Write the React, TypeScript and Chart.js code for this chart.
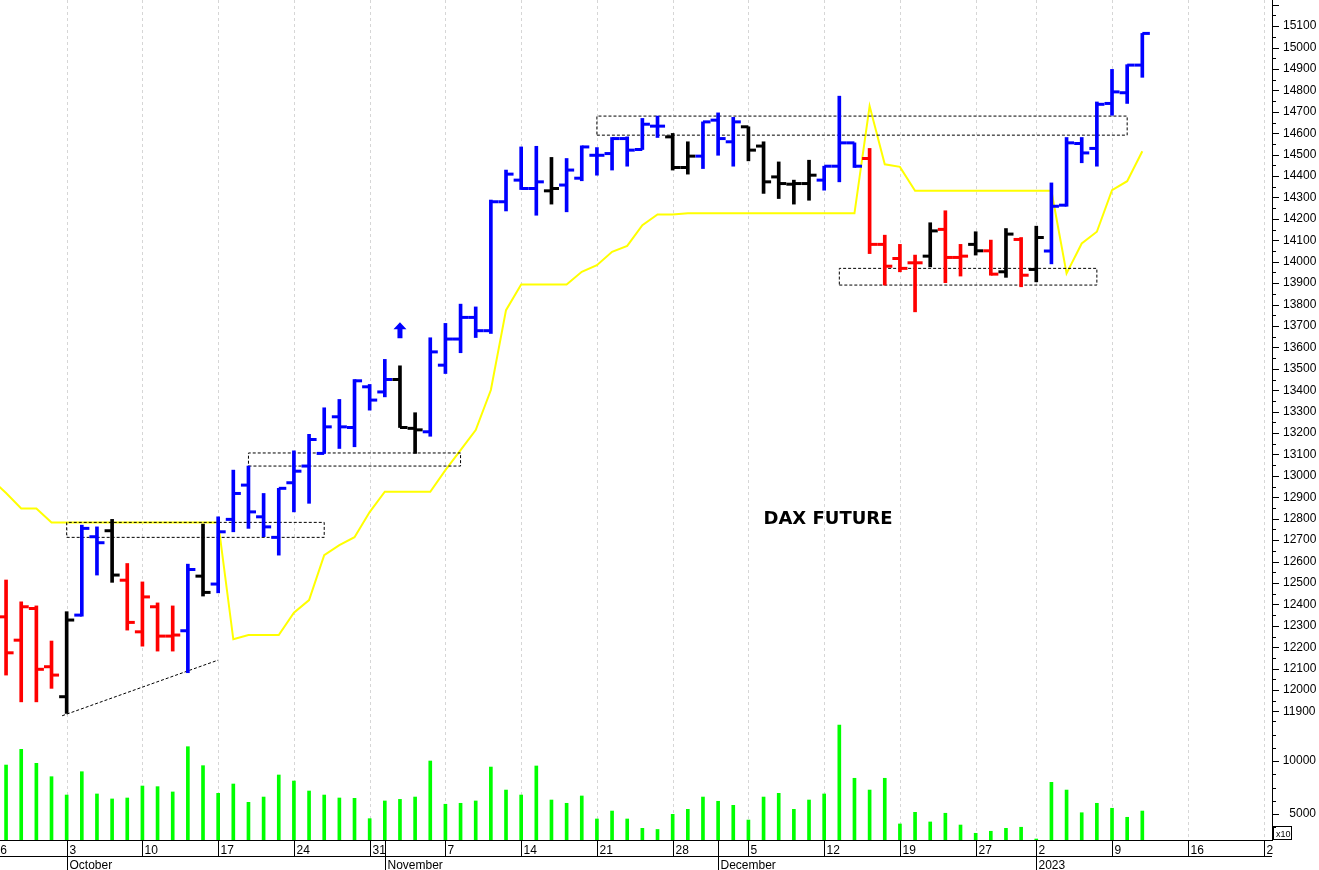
import React, { useEffect, useRef } from 'react';
import { Chart, registerables } from 'chart.js';

Chart.register(...registerables);

// ---- DATA (index 0 = Mon 3 Oct 2022, trading days) ----
const START_INDEX = -4; // first visible bar = 27 Sep 2022

const opens = [
  12342, 12233, 12381, 12109, 11969, 12350, 12716, 12744, 12513, 12272,
  12389, 12252, 12277, 12532, 12495, 12797, 12957, 12809, 12713, 12968,
  13046, 13105, 13276, 13226, 13416, 13392, 13450, 13222, 13206, 13517,
  13639, 13740, 13678, 14280, 14381, 14342, 14331, 14358, 14390, 14497,
  14505, 14575, 14524, 14633, 14583, 14440, 14493, 14661, 14560, 14630,
  14540, 14396, 14362, 14365, 14381, 14446, 14555, 14482, 14081, 14015,
  13995, 14026, 14151, 14020, 14081, 14051, 13953, 14104, 13964, 14050,
  14264, 14552, 14529, 14739, 14789, 14918,
];
const highs = [
  12514, 12412, 12393, 12229, 12366, 12770, 12762, 12797, 12591, 12505,
  12407, 12393, 12588, 12775, 12809, 13027, 13046, 12918, 12942, 13117,
  13194, 13318, 13357, 13450, 13427, 13544, 13514, 13295, 13645, 13712,
  13802, 13789, 14288, 14428, 14536, 14539, 14487, 14482, 14541, 14533,
  14580, 14583, 14669, 14680, 14599, 14560, 14653, 14695, 14674, 14630,
  14560, 14466, 14381, 14474, 14446, 14773, 14555, 14529, 14124, 14081,
  14031, 14182, 14238, 14081, 14140, 14101, 14155, 14113, 14166, 14368,
  14580, 14580, 14746, 14898, 14920, 15066,
];
const lows = [
  12070, 11945, 11945, 12008, 11891, 12345, 12537, 12503, 12280, 12205,
  12182, 12182, 12081, 12439, 12454, 12739, 12755, 12716, 12630, 12832,
  12872, 13105, 13128, 13136, 13307, 13369, 13226, 13105, 13185, 13478,
  13575, 13646, 13665, 14237, 14337, 14217, 14269, 14233, 14378, 14404,
  14428, 14446, 14524, 14580, 14428, 14409, 14435, 14497, 14446, 14471,
  14319, 14295, 14269, 14287, 14334, 14373, 14440, 14038, 13891, 13953,
  13766, 13976, 13902, 13933, 14031, 13937, 13927, 13883, 13906, 13990,
  14259, 14462, 14446, 14684, 14739, 14861,
];
const closes = [
  12174, 12389, 12097, 12070, 12327, 12755, 12688, 12537, 12316, 12435,
  12252, 12257, 12563, 12456, 12739, 12918, 12832, 12762, 12942, 13022,
  13170, 13229, 13229, 13444, 13354, 13450, 13226, 13215, 13579, 13639,
  13740, 13678, 14280, 14409, 14342, 14373, 14342, 14428, 14536, 14497,
  14575, 14521, 14642, 14633, 14440, 14493, 14653, 14575, 14653, 14521,
  14373, 14365, 14365, 14404, 14446, 14555, 14446, 14081, 13979, 13969,
  13995, 14144, 14020, 14026, 14051, 13942, 14129, 13937, 14113, 14259,
  14555, 14508, 14735, 14793, 14918, 15066,
];
// B = blue, K = black, R = red
const barColors = [
  'R', 'R', 'R', 'R', 'K', 'B', 'B', 'K', 'R', 'R',
  'R', 'R', 'B', 'K', 'B', 'B', 'B', 'B', 'B', 'B',
  'B', 'B', 'B', 'B', 'B', 'B', 'K', 'K', 'B', 'B',
  'B', 'B', 'B', 'B', 'B', 'B', 'K', 'B', 'B', 'B',
  'B', 'B', 'B', 'B', 'K', 'K', 'B', 'B', 'B', 'K',
  'K', 'K', 'K', 'K', 'B', 'B', 'B', 'R', 'R', 'R',
  'R', 'K', 'R', 'R', 'K', 'R', 'K', 'R', 'K', 'B',
  'B', 'B', 'B', 'B', 'B', 'B',
];
const volumes = [
  9620, 11100, 9780, 8520, 6790, 8990, 6890, 6420, 6510, 7640,
  7580, 7080, 11350, 9560, 6950, 7830, 6100, 6600, 8680, 8110,
  7170, 6790, 6510, 6480, 4560, 6230, 6380, 6600, 10000, 5920,
  6010, 6230, 9430, 7260, 6790, 9530, 6320, 6010, 6700, 4530,
  5280, 4530, 3650, 3540, 4970, 5440, 6600, 6200, 5820, 4430,
  6600, 6950, 5440, 6320, 6890, 13400, 8370, 7260, 8370, 4060,
  5160, 4250, 5070, 3960, 3180, 3370, 3650, 3750, 2640, 7990,
  7260, 5120, 6010, 5540, 4690, 5280,
];

const YELLOW_START = -5;
const yellowLine = [
  12985, 12920, 12848, 12848, 12783, 12783, 12783, 12783, 12783, 12783,
  12783, 12783, 12783, 12783, 12783, 12783, 12237, 12257, 12257, 12257,
  12361, 12420, 12630, 12677, 12714, 12831, 12926, 12926, 12926, 12926,
  13027, 13120, 13214, 13401, 13774, 13894, 13894, 13894, 13894, 13953,
  13984, 14046, 14074, 14171, 14221, 14221, 14226, 14226, 14226, 14226,
  14226, 14226, 14226, 14226, 14226, 14226, 14226, 14226, 14727, 14455,
  14443, 14331, 14331, 14331, 14331, 14331, 14331, 14331, 14331, 14331,
  14331, 13945, 14085, 14140, 14334, 14376, 14516,
];

// dotted boxes
const boxStartIdx = [0, 12, 35, 51];
const boxEndIdx = [17, 26, 70, 68];
const boxLow = [12713, 13046, 14591, 13891];
const boxHigh = [12783, 13107, 14680, 13969];
// dotted trend line
const trendIdx = [-0.3, 10];
const trendPrice = [11880, 12140];
// signal arrow
const arrowIdx = 22;
const arrowPrice = 13680;

// axis labels
const priceTicks = [
  11900, 12000, 12100, 12200, 12300, 12400, 12500, 12600, 12700, 12800,
  12900, 13000, 13100, 13200, 13300, 13400, 13500, 13600, 13700, 13800,
  13900, 14000, 14100, 14200, 14300, 14400, 14500, 14600, 14700, 14800,
  14900, 15000, 15100,
];
const volumeTicks = [5000, 10000];
const weekTickIdx = [-5, 0, 5, 10, 15, 20, 25, 30, 35, 40, 45, 50, 55, 60, 64, 69, 74, 79];
const weekTickLabels = ['26', '3', '10', '17', '24', '31', '7', '14', '21', '28', '5', '12', '19', '27', '2', '9', '16', '23'];
const monthTickIdx = [0, 21, 43, 64];
const monthTickLabels = ['October', 'November', 'December', '2023'];
const chartTitle = 'DAX FUTURE';

const COLOR_MAP: Record<string, string> = { B: '#0000ff', K: '#000000', R: '#ff0000' };
const FONT = '"Liberation Sans", Arial, sans-serif';

const decorPlugin = {
  id: 'decor',
  beforeDatasetsDraw(chart: any) {
    const { ctx, chartArea, scales } = chart;
    const x = scales.x;
    ctx.save();
    ctx.strokeStyle = '#d6d6d6';
    ctx.lineWidth = 1;
    ctx.setLineDash([3, 3]);
    weekTickIdx.forEach((i) => {
      const px = Math.round(x.getPixelForValue(i)) + 0.5;
      if (px < chartArea.left || px > chartArea.right) return;
      ctx.beginPath();
      ctx.moveTo(px, chartArea.top);
      ctx.lineTo(px, chartArea.bottom);
      ctx.stroke();
    });
    ctx.restore();
  },
  afterDraw(chart: any) {
    const { ctx, chartArea, scales } = chart;
    const x = scales.x;
    const y = scales.y;
    const yv = scales.yv;
    const right = chartArea.right;
    const bottom = chartArea.bottom;

    ctx.save();
    // price axis tick marks (major 100, minor 50)
    ctx.strokeStyle = '#000';
    ctx.lineWidth = 1;
    for (let v = 11900; v <= 15200; v += 50) {
      const py = Math.round(y.getPixelForValue(v)) + 0.5;
      const len = v % 100 === 0 ? 7 : 4;
      ctx.beginPath();
      ctx.moveTo(right, py);
      ctx.lineTo(right + len, py);
      ctx.stroke();
    }
    // volume axis ticks
    for (let v = 3750; v <= 13750; v += 1250) {
      const py = Math.round(yv.getPixelForValue(v)) + 0.5;
      const len = v % 5000 === 0 ? 7 : 4;
      ctx.beginPath();
      ctx.moveTo(right, py);
      ctx.lineTo(right + len, py);
      ctx.stroke();
    }
    ctx.fillStyle = '#000';
    ctx.font = '12px ' + FONT;
    ctx.textAlign = 'right';
    ctx.textBaseline = 'middle';
    volumeTicks.forEach((v) => {
      ctx.fillText(String(v), 1316, yv.getPixelForValue(v));
    });
    // x10 box
    ctx.strokeRect(right + 1.5, bottom - 13.5, 18, 13);
    ctx.font = '9px ' + FONT;
    ctx.textAlign = 'left';
    ctx.textBaseline = 'alphabetic';
    ctx.fillText('x10', right + 4, bottom - 3);

    // bottom date axis
    ctx.beginPath();
    ctx.rect(0, bottom, right + 1, 40);
    ctx.clip();
    ctx.beginPath();
    ctx.moveTo(0, bottom + 0.5);
    ctx.lineTo(right, bottom + 0.5);
    ctx.moveTo(0, bottom + 16.5);
    ctx.lineTo(right, bottom + 16.5);
    ctx.stroke();
    ctx.font = '12px ' + FONT;
    ctx.textAlign = 'left';
    weekTickIdx.forEach((i, k) => {
      const px = Math.round(x.getPixelForValue(i)) + 0.5;
      ctx.beginPath();
      ctx.moveTo(px, bottom);
      ctx.lineTo(px, bottom + 16);
      ctx.stroke();
      ctx.fillText(weekTickLabels[k], px + 2, bottom + 14);
    });
    monthTickIdx.forEach((i, k) => {
      const px = Math.round(x.getPixelForValue(i)) + 0.5;
      ctx.beginPath();
      ctx.moveTo(px, bottom);
      ctx.lineTo(px, bottom + 30);
      ctx.stroke();
      ctx.fillText(monthTickLabels[k], px + 2, bottom + 29);
    });
    ctx.restore();

    // title text
    ctx.save();
    ctx.fillStyle = '#000';
    ctx.font = 'bold 18px "DejaVu Sans", Verdana, sans-serif';
    ctx.textAlign = 'center';
    ctx.textBaseline = 'middle';
    ctx.fillText(chartTitle, x.getPixelForValue(50.25), y.getPixelForValue(12798));
    ctx.restore();

    // signal arrow
    const ax = x.getPixelForValue(arrowIdx);
    const ay = y.getPixelForValue(arrowPrice);
    ctx.save();
    ctx.fillStyle = '#0000ff';
    ctx.beginPath();
    ctx.moveTo(ax, ay - 8);
    ctx.lineTo(ax + 6.5, ay - 1);
    ctx.lineTo(ax + 2.5, ay - 1);
    ctx.lineTo(ax + 2.5, ay + 8);
    ctx.lineTo(ax - 2.5, ay + 8);
    ctx.lineTo(ax - 2.5, ay - 1);
    ctx.lineTo(ax - 6.5, ay - 1);
    ctx.closePath();
    ctx.fill();
    ctx.restore();
  },
};

export default function App() {
  const canvasRef = useRef<HTMLCanvasElement | null>(null);

  useEffect(() => {
    const canvas = canvasRef.current;
    if (!canvas) return;
    const idx = opens.map((_, k) => START_INDEX + k);
    const cols = barColors.map((c) => COLOR_MAP[c]);
    const TICK_OFF = 0.25;

    const boxSets = boxStartIdx.map((x0, k) => ({
      type: 'line' as const,
      data: [
        { x: x0, y: boxLow[k] },
        { x: boxEndIdx[k], y: boxLow[k] },
        { x: boxEndIdx[k], y: boxHigh[k] },
        { x: x0, y: boxHigh[k] },
        { x: x0, y: boxLow[k] },
      ],
      borderColor: '#000',
      borderWidth: 1,
      borderDash: [3, 2],
      pointRadius: 0,
      pointHoverRadius: 0,
      fill: false,
      yAxisID: 'y',
      order: 4,
    }));

    const chart = new Chart(canvas, {
      type: 'bar',
      data: {
        datasets: [
          {
            type: 'line',
            data: yellowLine.map((v, k) => ({ x: YELLOW_START + k, y: v })),
            borderColor: '#ffff00',
            borderWidth: 2,
            pointRadius: 0,
            pointHoverRadius: 0,
            tension: 0,
            fill: false,
            yAxisID: 'y',
            order: 6,
          },
          ...boxSets,
          {
            type: 'line',
            data: trendIdx.map((xv, k) => ({ x: xv, y: trendPrice[k] })),
            borderColor: '#000',
            borderWidth: 1,
            borderDash: [3, 2],
            pointRadius: 0,
            pointHoverRadius: 0,
            fill: false,
            yAxisID: 'y',
            order: 4,
          },
          {
            type: 'bar',
            data: idx.map((xv, k) => ({ x: xv, y: volumes[k] })),
            backgroundColor: '#00ff00',
            barThickness: 3,
            grouped: false,
            yAxisID: 'yv',
            order: 3,
          },
          {
            type: 'bar',
            data: idx.map((xv, k) => ({ x: xv, y: [lows[k], highs[k]] })),
            backgroundColor: cols,
            barThickness: 3,
            grouped: false,
            yAxisID: 'y',
            order: 2,
          },
          {
            type: 'line',
            data: idx.map((xv, k) => ({ x: xv - TICK_OFF, y: opens[k] })),
            showLine: false,
            pointStyle: 'line',
            pointRadius: 3.75,
            pointHoverRadius: 3.75,
            pointBorderWidth: 3,
            pointBorderColor: cols,
            pointBackgroundColor: cols,
            yAxisID: 'y',
            order: 1,
          },
          {
            type: 'line',
            data: idx.map((xv, k) => ({ x: xv + TICK_OFF, y: closes[k] })),
            showLine: false,
            pointStyle: 'line',
            pointRadius: 3.75,
            pointHoverRadius: 3.75,
            pointBorderWidth: 3,
            pointBorderColor: cols,
            pointBackgroundColor: cols,
            yAxisID: 'y',
            order: 1,
          },
        ] as any,
      },
      options: {
        animation: false,
        responsive: true,
        maintainAspectRatio: false,
        devicePixelRatio: 1,
        layout: { autoPadding: false, padding: { left: 0, right: 0, top: 0, bottom: 30 } },
        plugins: { legend: { display: false }, tooltip: { enabled: false } },
        events: [],
        scales: {
          x: { type: 'linear', min: -4.4, max: 79.56, display: false, offset: false },
          y: {
            type: 'linear',
            position: 'right',
            min: 11300,
            max: 15222,
            afterFit: (s: any) => {
              s.width = 47;
              s.paddingTop = 0;
              s.paddingBottom = 0;
            },
            afterBuildTicks: (s: any) => {
              s.ticks = priceTicks.map((v) => ({ value: v }));
            },
            ticks: {
              autoSkip: false,
              padding: 11,
              color: '#000',
              font: { family: FONT, size: 12 },
              callback: (v: any) => String(v),
            },
            grid: { display: false, drawTicks: false },
            border: { display: true, color: '#000', width: 1 },
          },
          yv: { type: 'linear', display: false, min: 2547, max: 81800 },
        },
      } as any,
      plugins: [decorPlugin],
    });
    return () => chart.destroy();
  }, []);

  return (
    <div style={{ position: 'fixed', left: 0, top: 0, width: 1319, height: 870, background: '#fff' }}>
      <canvas ref={canvasRef} />
    </div>
  );
}
